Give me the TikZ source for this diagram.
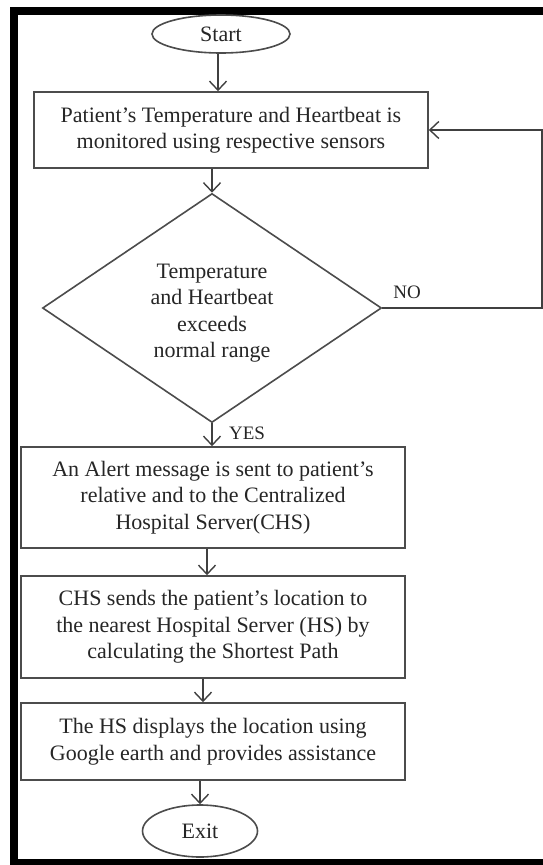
\documentclass[tikz,border=0pt]{standalone}
\usepackage{fontspec}
\setmainfont{Liberation Serif}
\usetikzlibrary{shapes.geometric,arrows.meta}
\begin{document}
\begin{tikzpicture}[x=1pt,y=-1pt,
  txt/.style={font=\fontsize{22}{26.5}\selectfont, text=black!85, align=center},
  boxnode/.style={txt, draw=black!70, line width=1.6pt, rectangle, inner sep=0pt},
  ovalnode/.style={txt, draw=black!70, line width=1.6pt, ellipse, inner sep=0pt},
  dianode/.style={draw=black!70, line width=1.6pt, diamond, inner sep=0pt, minimum width=339pt, minimum height=229pt},
  flow/.style={draw=black!75, line width=1.5pt, -{Straight Barb[length=9pt,width=17pt,line width=1.4pt]}},
  lbl/.style={font=\fontsize{19}{21}\selectfont, text=black!85}
]
\useasboundingbox (0,0) rectangle (543,865);
\fill[white] (0,0) rectangle (543,865);
% frame
\fill[black] (10,7) rectangle (543,15);
\fill[black] (10,7) rectangle (18,865);
\fill[black] (10,859) rectangle (543,865);

\node[ovalnode, minimum width=138pt, minimum height=38pt] (start) at (221,34) {Start};
\node[boxnode, minimum width=394pt, minimum height=76pt] (box1) at (231,130)
  {Patient's Temperature and Heartbeat is\\monitored using respective sensors};
\node[dianode] (dia) at (212,308) {};
\node[txt] (diatext) at (212,313) {Temperature\\and Heartbeat\\exceeds\\normal range};
\node[boxnode, minimum width=384pt, minimum height=101pt] (box2) at (213,497.5)
  {An Alert message is sent to patient's\\relative and to the Centralized\\Hospital Server(CHS)};
\node[boxnode, minimum width=384pt, minimum height=102pt] (box3) at (213,627)
  {CHS sends the patient's location to\\the nearest Hospital Server (HS) by\\calculating the Shortest Path};
\node[boxnode, minimum width=384pt, minimum height=77pt] (box4) at (213,741.5)
  {The HS displays the location using\\Google earth and provides assistance};
\node[ovalnode, minimum width=115pt, minimum height=52pt] (exit) at (200,831) {Exit};

\coordinate (loopc) at (542,130);
\node[lbl] (no) at (407,292) {NO};
\node[lbl] (yes) at (247,433) {YES};

\draw[flow] ([xshift=-3pt]start.south) -- ([xshift=-3pt]start.south |- box1.north);
\draw[flow] (dia.north |- box1.south) -- (dia.north);
\draw[flow] (dia.south) -- (dia.south |- box2.north);
\draw[flow] ([xshift=-6pt]box2.south) -- ([xshift=-6pt]box3.north);
\draw[flow] ([xshift=-10pt]box3.south) -- ([xshift=-10pt]box4.north);
\draw[flow] (exit.north |- box4.south) -- (exit.north);
\draw[flow] (dia.east) -| (loopc) -- (box1.east);
\end{tikzpicture}
\end{document}
